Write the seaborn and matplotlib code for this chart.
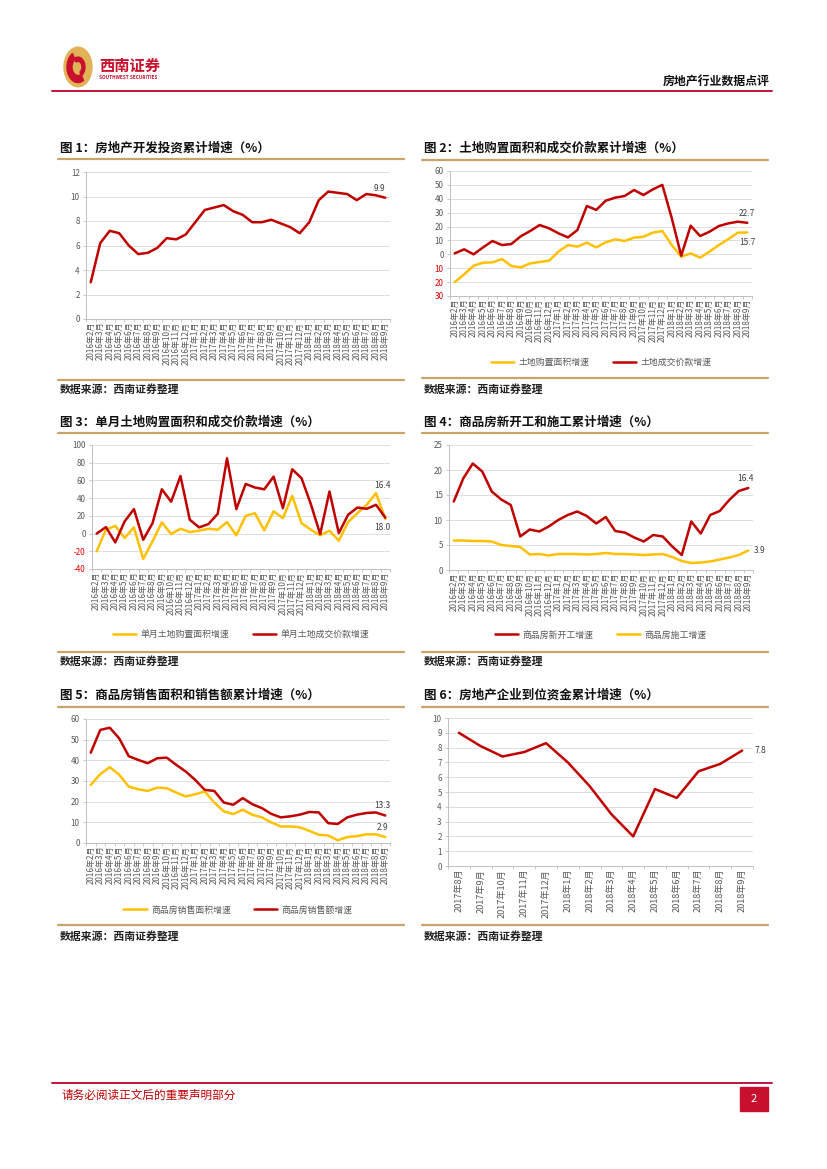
import numpy as np
import pandas as pd
import matplotlib
matplotlib.use("Agg")
import matplotlib.pyplot as plt
import seaborn as sns
from matplotlib.patches import Circle, Wedge, Rectangle
from matplotlib.lines import Line2D

# Step 1: data
months_32 = ([f"2016年{m}月" for m in range(2, 13)] + [f"2017年{m}月" for m in range(1, 13)]
             + [f"2018年{m}月" for m in range(1, 10)])
months_14 = [f"2017年{m}月" for m in range(8, 13)] + [f"2018年{m}月" for m in range(1, 10)]

invest_growth = [3.0, 6.2, 7.2, 7.0, 6.0, 5.3, 5.4, 5.8, 6.6, 6.5, 6.9, 7.9, 8.9, 9.1, 9.3, 8.8,
                 8.5, 7.9, 7.9, 8.1, 7.8, 7.5, 7.0, 7.9, 9.7, 10.4, 10.3, 10.2, 9.7, 10.2, 10.1, 9.9]

land_area = [-20.0, -14.4, -8.2, -6.0, -5.8, -3.4, -8.4, -9.4, -6.5, -5.5, -4.6, 2.0, 6.7, 5.5, 8.4, 5.0,
             8.6, 10.8, 9.6, 12.0, 12.7, 15.6, 16.8, 6.7, -1.7, 0.7, -2.4, 2.0, 6.7, 11.0, 15.6, 15.7]
land_price = [0.7, 3.6, 0.0, 5.0, 9.6, 6.7, 7.4, 13.0, 16.8, 21.1, 18.7, 15.1, 12.2, 17.5, 34.8, 32.0,
              38.6, 40.8, 42.0, 46.3, 42.7, 46.8, 50.0, 26.0, -1.0, 20.6, 13.2, 16.3, 20.4, 22.3, 23.5, 22.7]

month_land_area = [-20.0, 4.3, 8.8, -5.0, 7.0, -28.7, -8.8, 12.6, -0.5, 5.5, 1.7, 3.2, 5.5, 4.3, 13.0, -2.0,
                   20.0, 23.0, 3.6, 25.0, 17.4, 42.6, 11.8, 4.3, -2.0, 3.2, -8.0, 13.0, 23.0, 32.5, 45.6, 16.4]
month_land_price = [0.0, 7.3, -10.0, 13.7, 27.6, -7.0, 11.8, 50.0, 36.0, 65.0, 15.6, 7.0, 10.7, 22.3, 85.0, 27.6,
                    56.0, 52.0, 50.0, 64.3, 28.7, 72.6, 62.5, 33.2, -0.6, 47.5, 0.6, 21.2, 29.4, 28.0, 32.5, 18.0]

new_start = [13.7, 18.3, 21.3, 19.7, 15.7, 14.1, 13.0, 6.7, 8.1, 7.7, 8.7, 10.0, 11.0, 11.7, 10.8, 9.3,
             10.6, 7.8, 7.5, 6.5, 5.7, 7.0, 6.7, 4.7, 3.0, 9.7, 7.3, 11.0, 11.8, 14.0, 15.8, 16.4]
under_construction = [5.9, 5.9, 5.8, 5.8, 5.7, 5.0, 4.8, 4.6, 3.1, 3.2, 2.9, 3.2, 3.2, 3.2, 3.1, 3.2,
                      3.4, 3.2, 3.2, 3.1, 3.0, 3.1, 3.2, 2.6, 1.8, 1.4, 1.5, 1.7, 2.1, 2.5, 3.0, 3.9]

sales_area = [28.1, 33.3, 36.7, 33.0, 27.3, 26.0, 25.2, 26.8, 26.5, 24.4, 22.5, 23.6, 24.9, 19.6, 15.3, 14.0,
              16.1, 13.7, 12.4, 10.0, 8.0, 8.0, 7.6, 5.9, 4.0, 3.6, 1.3, 2.9, 3.3, 4.2, 4.2, 2.9]
sales_value = [43.7, 54.7, 55.8, 50.6, 42.0, 40.2, 38.6, 41.0, 41.3, 37.8, 34.6, 30.5, 25.7, 25.2, 19.6, 18.5,
               21.7, 18.8, 16.9, 14.1, 12.4, 12.9, 13.7, 15.0, 14.8, 9.6, 9.2, 12.4, 13.7, 14.5, 14.8, 13.3]

funds_growth = [9.0, 8.1, 7.4, 7.7, 8.3, 7.0, 5.4, 3.5, 2.0, 5.2, 4.6, 6.4, 6.9, 7.8]

RED = "#C00000"
YEL = "#FFC000"
GOLD = "#C8A46A"
W, H = 827, 1169

sns.set_theme(style="white")
plt.rcParams["font.family"] = ["Noto Sans CJK SC", "DejaVu Sans"]
plt.rcParams["axes.unicode_minus"] = False

fig = plt.figure(figsize=(W / 100, H / 100), dpi=100)


def fx(x):
    return x / W


def fy(y):
    return 1 - y / H


def hline(x0, x1, y, color, lw):
    fig.add_artist(Line2D([fx(x0), fx(x1)], [fy(y), fy(y)], color=color, lw=lw))


def make_ax(l, t, r, b):
    return fig.add_axes([fx(l), fy(b), fx(r) - fx(l), (b - t) / H])


def long_df(labels, series):
    frames = []
    for name, vals in series.items():
        frames.append(pd.DataFrame({"x": np.arange(len(labels)), "v": vals, "s": name}))
    return pd.concat(frames, ignore_index=True)


def style_ax(ax, labels, yticks, ylabels=None, neg_red=False, xsize=5.8):
    n = len(labels)
    ax.set_xlim(-0.5, n - 0.5)
    ax.set_ylim(yticks[0], yticks[-1])
    ax.set_xticks(range(n))
    ax.set_xticklabels(labels, rotation=90, fontsize=xsize, color="#595959")
    ax.set_xticks(np.arange(-0.5, n, 1), minor=True)
    ax.set_yticks(yticks)
    if ylabels is None:
        ylabels = [str(v) for v in yticks]
    ax.set_yticklabels(ylabels, fontsize=5.8, color="#595959")
    if neg_red:
        for lab, v in zip(ax.get_yticklabels(), yticks):
            if v < 0:
                lab.set_color("#E00000")
    ax.tick_params(axis="x", which="major", length=0, pad=2)
    ax.tick_params(axis="x", which="minor", length=2.5, color="#BFBFBF", width=0.6, bottom=True)
    ax.tick_params(axis="y", length=2.5, color="#BFBFBF", width=0.6, left=True, pad=2)
    ax.grid(axis="y", color="#D9D9D9", lw=0.6)
    ax.grid(axis="x", visible=False)
    for s in ["top", "right"]:
        ax.spines[s].set_visible(False)
    for s in ["left", "bottom"]:
        ax.spines[s].set_color("#BFBFBF")
        ax.spines[s].set_linewidth(0.7)
    ax.set_xlabel("")
    ax.set_ylabel("")


def plot_lines(ax, labels, series, colors, legend_y=None):
    df = long_df(labels, series)
    names = list(series.keys())
    sns.lineplot(data=df, x="x", y="v", hue="s", hue_order=names,
                 palette=dict(zip(names, colors)), lw=1.8, ax=ax,
                 legend=legend_y is not None, sort=False)
    if legend_y is not None:
        sns.move_legend(ax, "center", bbox_to_anchor=(0.5, legend_y), ncol=2, frameon=False,
                        title=None, fontsize=6.4, handlelength=2.6, columnspacing=2.6, handletextpad=0.5)
        for t in ax.get_legend().get_texts():
            t.set_color("#595959")


def note(ax, x, y, txt, dx, dy, ha="center"):
    ax.annotate(txt, (x, y), xytext=(dx, dy), textcoords="offset points",
                ha=ha, va="center", fontsize=6, color="#404040")


def frame(x_left, title, y_title, y_gold_top, y_gold_bot, y_src):
    fig.text(fx(x_left + 2), fy(y_title), title, fontsize=9, fontweight="bold",
             va="center", ha="left", color="#111111")
    hline(x_left, x_left + 346, y_gold_top, GOLD, 1.6)
    hline(x_left, x_left + 346, y_gold_bot, GOLD, 1.6)
    fig.text(fx(x_left + 2), fy(y_src), "数据来源：西南证券整理", fontsize=7.8, fontweight="bold",
             va="center", ha="left", color="#222222", style="italic")


# Step 2: page header
fig.add_artist(Circle((fx(78), fy(67)), 14 / W, transform=fig.transFigure, color="#E2B257"))
fig.add_artist(Wedge((fx(78), fy(67)), 11 / W, 120, 300, width=5 / W, transform=fig.transFigure,
                     color="#C8102E"))
fig.add_artist(Wedge((fx(78), fy(67)), 7 / W, 300, 480, width=3 / W, transform=fig.transFigure,
                     color="#C8102E"))
fig.text(fx(99), fy(66), "西南证券", fontsize=11, fontweight="bold", color="#C8102E", va="center")
fig.text(fx(99), fy(77.5), "SOUTHWEST SECURITIES", fontsize=3.4, fontweight="bold",
         color="#C8102E", va="center")
fig.text(fx(770), fy(82), "房地产行业数据点评", fontsize=8.6, fontweight="bold",
         color="#111111", va="center", ha="right")
hline(52, 772, 91, "#C0143C", 1.4)

# Step 3: chart 1
ax1 = make_ax(86, 172, 390, 319)
plot_lines(ax1, months_32, {"房地产开发投资累计增速": invest_growth}, [RED])
style_ax(ax1, months_32, list(range(0, 13, 2)))
note(ax1, 31, invest_growth[-1], f"{invest_growth[-1]:.1f}", -4, 7)
frame(58, "图 1：房地产开发投资累计增速（%）", 148, 159, 380, 390)

# chart 2
ax2 = make_ax(450, 171, 752, 296)
plot_lines(ax2, months_32, {"土地购置面积增速": land_area, "土地成交价款增速": land_price},
           [YEL, RED], legend_y=-0.53)
y2 = list(range(-30, 61, 10))
style_ax(ax2, months_32, y2, [str(abs(v)) for v in y2], neg_red=True)
note(ax2, 31, land_price[-1], f"{land_price[-1]:.1f}", 0, 7)
note(ax2, 31, land_area[-1], f"{land_area[-1]:.1f}", 0, -7)
frame(422, "图 2：土地购置面积和成交价款累计增速（%）", 148, 160, 378, 390)

# chart 3
ax3 = make_ax(92, 445, 390, 569)
plot_lines(ax3, months_32, {"单月土地购置面积增速": month_land_area, "单月土地成交价款增速": month_land_price},
           [YEL, RED], legend_y=-0.53)
style_ax(ax3, months_32, list(range(-40, 101, 20)), neg_red=True)
note(ax3, 31, month_land_area[-1], f"{month_land_area[-1]:.1f}", -2, 24)
note(ax3, 31, month_land_price[-1], f"{month_land_price[-1]:.1f}", -2, -7)
frame(58, "图 3：单月土地购置面积和成交价款增速（%）", 422, 433, 652, 662)

# chart 4
ax4 = make_ax(449, 445, 753, 570)
plot_lines(ax4, months_32, {"商品房新开工增速": new_start, "商品房施工增速": under_construction},
           [RED, YEL], legend_y=-0.52)
style_ax(ax4, months_32, list(range(0, 26, 5)))
note(ax4, 31, new_start[-1], f"{new_start[-1]:.1f}", -2, 7)
note(ax4, 31, under_construction[-1], f"{under_construction[-1]:.1f}", 4, 0, ha="left")
frame(422, "图 4：商品房新开工和施工累计增速（%）", 422, 433, 652, 662)

# chart 5
ax5 = make_ax(86, 719, 390, 843)
plot_lines(ax5, months_32, {"商品房销售面积增速": sales_area, "商品房销售额增速": sales_value},
           [YEL, RED], legend_y=-0.54)
style_ax(ax5, months_32, list(range(0, 61, 10)))
note(ax5, 31, sales_value[-1], f"{sales_value[-1]:.1f}", -2, 7)
note(ax5, 31, sales_area[-1], f"{sales_area[-1]:.1f}", -2, 7)
frame(58, "图 5：商品房销售面积和销售额累计增速（%）", 695, 707, 925, 937)

# chart 6
ax6 = make_ax(448, 718, 753, 866)
plot_lines(ax6, months_14, {"房地产企业到位资金累计增速": funds_growth}, [RED])
style_ax(ax6, months_14, list(range(0, 11)), xsize=6.6)
note(ax6, 13, funds_growth[-1], f"{funds_growth[-1]:.1f}", 9, 0, ha="left")
frame(422, "图 6：房地产企业到位资金累计增速（%）", 695, 707, 925, 937)

# Step 4: page footer
hline(52, 772, 1083, "#C0143C", 1.4)
fig.text(fx(62), fy(1095), "请务必阅读正文后的重要声明部分", fontsize=8.4, color="#C00000", va="center")
fig.add_artist(Rectangle((fx(740), fy(1111)), 28 / W, 24 / H, transform=fig.transFigure,
                         color="#C8102E"))
fig.text(fx(754), fy(1099), "2", fontsize=8, color="white", va="center", ha="center")

fig.savefig("out.png", dpi=100)
